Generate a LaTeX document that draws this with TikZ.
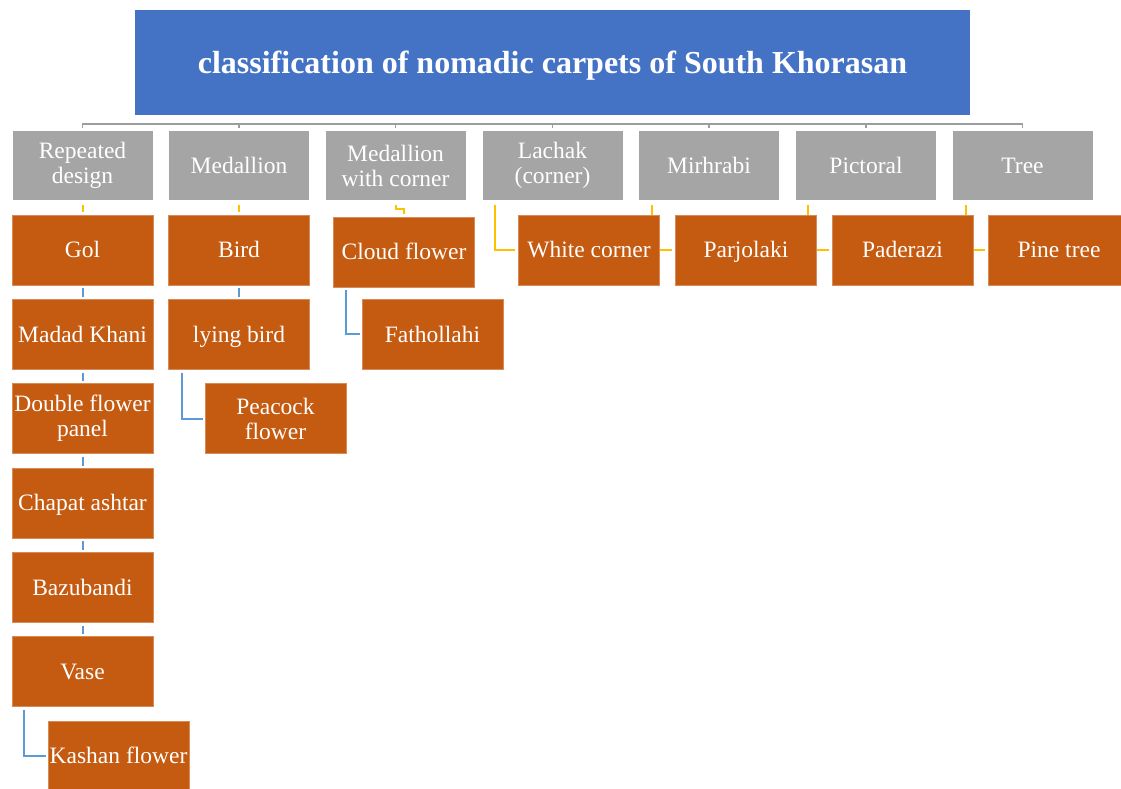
\documentclass[tikz,border=0pt]{standalone}
\usepackage{fontspec}
\setmainfont{Liberation Serif}
\definecolor{TitleBlue}{RGB}{68,114,196}
\definecolor{LevelGray}{RGB}{165,165,165}
\definecolor{LeafOrange}{RGB}{197,90,17}
\definecolor{LinkBlue}{RGB}{91,155,213}
\definecolor{LinkGold}{RGB}{255,192,0}
\usepackage{tikz}
\usetikzlibrary{positioning, calc, backgrounds}
\newcommand{\leafstrut}{\rule[-0.216em]{0pt}{1.107em}}

\begin{document}
\begin{tikzpicture}[x=1pt, y=-1pt,
    catbox/.style={fill=LevelGray, draw=white, line width=0.6pt, text=white, minimum width=141pt, minimum height=70pt, align=center, inner sep=0pt, font=\fontsize{23.5}{25}\selectfont},
    leafbox/.style={catbox, fill=LeafOrange, draw=LeafOrange!70!white},
    toplink/.style={draw=LevelGray!95!black, line width=1.6pt},
    goldlink/.style={draw=LinkGold, line width=2pt, shorten <=4pt, shorten >=3pt},
    bluelink/.style={draw=LinkBlue, line width=2pt, shorten <=3pt, shorten >=2pt}]
          \useasboundingbox (0,0) rectangle (1121,788);
          \node[fill=TitleBlue, text=white, minimum width=835pt, minimum height=105pt, inner sep=0pt, font=\fontsize{32}{34}\selectfont\bfseries] (title) at (552.5,62.5) {\leafstrut classification of nomadic carpets of South Khorasan};
          \node[catbox] (rep) at (82.5,165.5) {Repeated\\design};
          \node[catbox] (med) at (239,165.5) {\leafstrut Medallion};
          \node[catbox] (medwc) at (395.5,165.5) {Medallion\\with corner};
          \node[catbox] (lach) at (552.5,165.5) {Lachak\\(corner)};
          \node[catbox] (mir) at (709,165.5) {\leafstrut Mirhrabi};
          \node[catbox] (pict) at (866,165.5) {\leafstrut Pictoral};
          \node[catbox] (tree) at (1022.5,165.5) {\leafstrut Tree};
          \node[leafbox] (gol) at (82.5,250) {\leafstrut Gol};
          \node[leafbox] (madad) at (82.5,334.3) {\leafstrut Madad Khani};
          \node[leafbox] (double) at (82.5,418.6) {Double flower\\panel};
          \node[leafbox] (chapat) at (82.5,502.9) {\leafstrut Chapat ashtar};
          \node[leafbox] (bazu) at (82.5,587.2) {\leafstrut Bazubandi};
          \node[leafbox] (vase) at (82.5,671.5) {\leafstrut Vase};
          \node[leafbox] (kashan) at (118.5,755.8) {\leafstrut Kashan flower};
          \node[leafbox] (bird) at (239,250) {\leafstrut Bird};
          \node[leafbox] (lying) at (239,334.3) {\leafstrut lying bird};
          \node[leafbox] (peacock) at (275.5,418.6) {Peacock\\flower};
          \node[leafbox] (cloud) at (404,252) {\leafstrut Cloud flower};
          \node[leafbox] (fath) at (432.5,334.3) {\leafstrut Fathollahi};
          \node[leafbox] (white) at (589,250) {\leafstrut White corner};
          \node[leafbox] (parj) at (746,250) {\leafstrut Parjolaki};
          \node[leafbox] (pader) at (902.5,250) {\leafstrut Paderazi};
          \node[leafbox] (pine) at (1059,250) {\leafstrut Pine tree};
          \begin{scope}[on background layer]
          \fill[white] (0,0) rectangle (1121,788);
          \coordinate (hub) at ($(title.south)+(0,9)$);
          \foreach \c in {rep,med,medwc,lach,mir,pict,tree}
            \draw[toplink] ([yshift=2pt]\c.north) |- (hub);
          \draw[goldlink] (rep) -- (gol);
          \draw[goldlink] (med) -- (bird);
          \draw[goldlink] (medwc.south) -- ++(0,8) -| (cloud.north);
          \draw[goldlink] ([xshift=-58pt]lach.south) |- (white.west);
          \draw[goldlink] ([xshift=-57pt]mir.south) |- (parj.west);
          \draw[goldlink] ([xshift=-58pt]pict.south) |- (pader.west);
          \draw[goldlink] ([xshift=-57pt]tree.south) |- (pine.west);
          \draw[bluelink] (gol) -- (madad);
          \draw[bluelink] (madad) -- (double);
          \draw[bluelink] (double) -- (chapat);
          \draw[bluelink] (chapat) -- (bazu);
          \draw[bluelink] (bazu) -- (vase);
          \draw[bluelink] ([xshift=12pt]vase.south west) |- (kashan.west);
          \draw[bluelink] (bird) -- (lying);
          \draw[bluelink] ([xshift=14pt]lying.south west) |- (peacock.west);
          \draw[bluelink] ([xshift=13pt]cloud.south west) |- (fath.west);
          \end{scope}
        \end{tikzpicture}
\end{document}
